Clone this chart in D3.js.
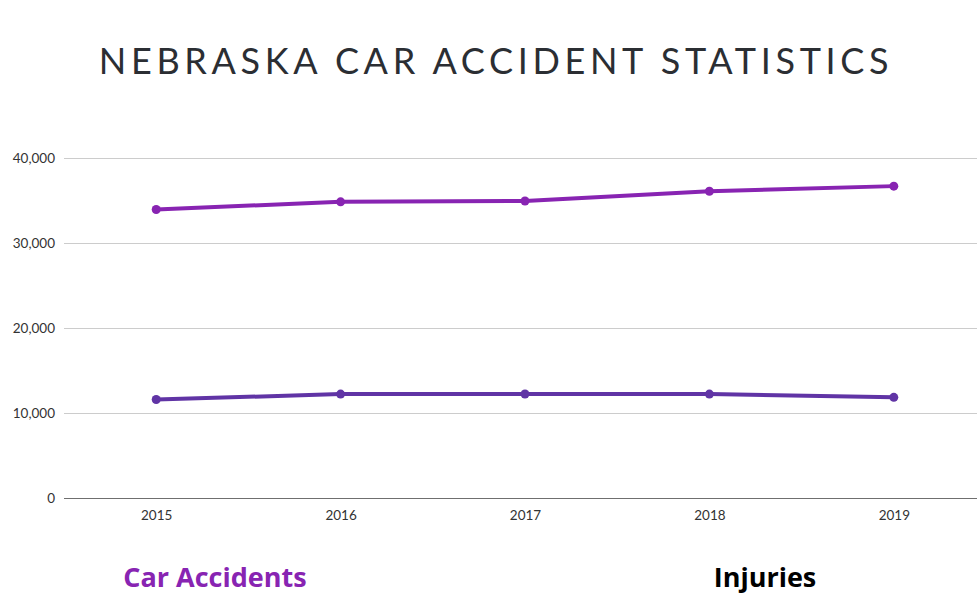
<!DOCTYPE html>
<html>
<head>
<meta charset="utf-8">
<script src="https://cdn.jsdelivr.net/npm/d3@7"></script>
<style>
  html, body { margin: 0; padding: 0; background: #fff; }
  svg { display: block; }
</style>
</head>
<body>
<svg id="chart" width="977" height="610"></svg>
<script>
const years = ["2015", "2016", "2017", "2018", "2019"];
const carAccidents = [34000, 34900, 35000, 36150, 36750];
const injuries = [11650, 12280, 12300, 12280, 11900];
const yTicks = [0, 10000, 20000, 30000, 40000];
const seriesNames = ["Car Accidents", "Injuries"];
const seriesColors = ["#8824b2", "#6034a5"];

const svg = d3.select("#chart");
const W = 977, H = 610;

svg.append("text")
  .attr("x", 496).attr("y", 74)
  .attr("text-anchor", "middle")
  .attr("font-family", "Lato, sans-serif")
  .attr("font-size", 36)
  .attr("letter-spacing", 4.65)
  .attr("fill", "#2b2e33")
  .text("NEBRASKA CAR ACCIDENT STATISTICS");

const x = d3.scalePoint().domain(years).range([64, 986]).padding(0.5);
const y = d3.scaleLinear().domain([0, 40000]).range([498.5, 158.5]);

// gridlines
svg.append("g").selectAll("line")
  .data(yTicks.filter(d => d !== 0))
  .join("line")
  .attr("x1", 64).attr("x2", W)
  .attr("y1", d => y(d)).attr("y2", d => y(d))
  .attr("stroke", "#cccccc").attr("stroke-width", 1);

// y axis labels
const yAxis = d3.axisLeft(y).tickValues(yTicks).tickSize(0).tickPadding(9)
  .tickFormat(d3.format(","));
const gy = svg.append("g").attr("transform", "translate(64,0)").call(yAxis);
gy.select(".domain").remove();
gy.selectAll("text").attr("font-family", "Lato, sans-serif").attr("font-size", 13.5).attr("fill", "#333");

// baseline
svg.append("line")
  .attr("x1", 64).attr("x2", W)
  .attr("y1", y(0)).attr("y2", y(0))
  .attr("stroke", "#6f6f6f").attr("stroke-width", 1);

// x axis
const xAxis = d3.axisBottom(x).tickSize(0).tickPadding(12);
const gx = svg.append("g").attr("transform", `translate(0,${y(0)})`).call(xAxis);
gx.select(".domain").remove();
gx.selectAll("text").attr("font-family", "Lato, sans-serif").attr("font-size", 13.5).attr("fill", "#333");

const series = [carAccidents, injuries];
const line = d3.line().x((d, i) => x(years[i])).y(d => y(d));
series.forEach((vals, s) => {
  const g = svg.append("g");
  g.append("path")
    .datum(vals)
    .attr("d", line)
    .attr("fill", "none")
    .attr("stroke", seriesColors[s])
    .attr("stroke-width", 4)
    .attr("stroke-linejoin", "round");
  g.selectAll("circle").data(vals).join("circle")
    .attr("cx", (d, i) => x(years[i]))
    .attr("cy", d => y(d))
    .attr("r", 4.5)
    .attr("fill", seriesColors[s]);
});

// legend labels
const legendX = [215, 765];
const legendFill = [seriesColors[0], "#000000"];
svg.append("g").selectAll("text").data(seriesNames).join("text")
  .attr("x", (d, i) => legendX[i])
  .attr("y", 587)
  .attr("text-anchor", "middle")
  .attr("font-family", "'Open Sans', sans-serif")
  .attr("font-weight", 700)
  .attr("font-size", 27)
  .attr("letter-spacing", 0)
  .attr("fill", (d, i) => legendFill[i])
  .text(d => d);
</script>
</body>
</html>
